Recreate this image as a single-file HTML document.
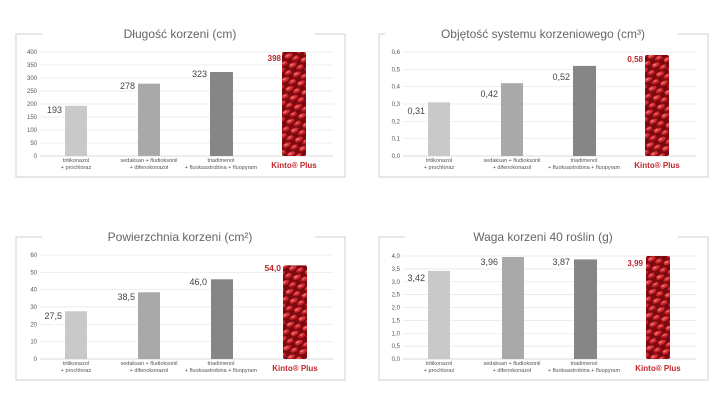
<!DOCTYPE html>
<html><head><meta charset="utf-8"><style>
html,body{margin:0;padding:0;background:#fff;}
svg{display:block;font-family:"Liberation Sans",sans-serif;}
</style></head><body>
<svg width="720" height="405" viewBox="0 0 720 405" xmlns="http://www.w3.org/2000/svg">
<defs>
<pattern id="beans" width="13" height="10" patternUnits="userSpaceOnUse" patternTransform="rotate(-25)">
<rect width="13" height="10" fill="#7a0a10"/>
<ellipse cx="3.5" cy="2.5" rx="4.6" ry="2.3" fill="#d42a30"/>
<ellipse cx="10" cy="7.5" rx="4.6" ry="2.3" fill="#c92026"/>
<ellipse cx="3" cy="1.9" rx="2" ry="0.8" fill="#f08080"/>
<ellipse cx="9.5" cy="6.9" rx="2" ry="0.8" fill="#ea7070"/>
</pattern>
</defs>
<rect width="720" height="405" fill="#fff"/>

<!-- Panel A -->
<g>
<path d="M42 34 H16 V177 H345 V34 H315" stroke="#cfcfcf" fill="none"/>
<text x="180" y="38" font-size="12" fill="#666" text-anchor="middle">Długość korzeni (cm)</text>
<g stroke="#e6e6e6" stroke-width="0.7">
<line x1="40" x2="333" y1="52" y2="52"/><line x1="40" x2="333" y1="65" y2="65"/><line x1="40" x2="333" y1="78" y2="78"/><line x1="40" x2="333" y1="91" y2="91"/><line x1="40" x2="333" y1="104" y2="104"/><line x1="40" x2="333" y1="117" y2="117"/><line x1="40" x2="333" y1="130" y2="130"/><line x1="40" x2="333" y1="143" y2="143"/><line x1="40" x2="333" y1="156" y2="156" stroke="#ccc"/>
</g>
<g font-size="6" fill="#555" text-anchor="end">
<text x="37" y="54">400</text><text x="37" y="67">350</text><text x="37" y="80">300</text><text x="37" y="93">250</text><text x="37" y="106">200</text><text x="37" y="119">150</text><text x="37" y="132">100</text><text x="37" y="145">50</text><text x="37" y="158">0</text>
</g>
<rect x="65" y="105.8" width="22" height="50.2" fill="#c9c9c9"/>
<rect x="138" y="83.7" width="22" height="72.3" fill="#a9a9a9"/>
<rect x="210" y="72" width="23" height="84" fill="#868686"/>
<rect x="282" y="52" width="24" height="104" rx="2" fill="url(#beans)"/>
<g font-size="9" fill="#444" text-anchor="end">
<text x="62" y="113">193</text><text x="135" y="89">278</text><text x="207" y="77">323</text>
</g>
<text x="281" y="61" font-size="8" font-weight="bold" fill="#c0262c" text-anchor="end">398</text>
<g font-size="5.5" fill="#555" text-anchor="middle">
<text x="76" y="162">tritikonazol</text><text x="76" y="169">+ prochloraz</text>
<text x="149" y="162">sedaksan + fludioksonil</text><text x="149" y="169">+ difenokonazol</text>
<text x="221" y="162">triadimenol</text><text x="221" y="169">+ fluoksastrobina + fluopyram</text>
</g>
<text x="294" y="168" font-size="8" font-weight="bold" fill="#c0262c" text-anchor="middle">Kinto® Plus</text>
</g>

<!-- Panel B -->
<g transform="translate(363,0)">
<path d="M22 34 H16 V177 H345 V34 H315" stroke="#cfcfcf" fill="none"/>
<text x="180" y="38" font-size="12" fill="#666" text-anchor="middle">Objętość systemu korzeniowego (cm³)</text>
<g stroke="#e6e6e6" stroke-width="0.7">
<line x1="40" x2="333" y1="52" y2="52"/><line x1="40" x2="333" y1="69.3" y2="69.3"/><line x1="40" x2="333" y1="86.7" y2="86.7"/><line x1="40" x2="333" y1="104" y2="104"/><line x1="40" x2="333" y1="121.3" y2="121.3"/><line x1="40" x2="333" y1="138.7" y2="138.7"/><line x1="40" x2="333" y1="156" y2="156" stroke="#ccc"/>
</g>
<g font-size="6" fill="#555" text-anchor="end">
<text x="37" y="54">0,6</text><text x="37" y="71.3">0,5</text><text x="37" y="88.7">0,4</text><text x="37" y="106">0,3</text><text x="37" y="123.3">0,2</text><text x="37" y="140.7">0,1</text><text x="37" y="158">0,0</text>
</g>
<rect x="65" y="102.3" width="22" height="53.7" fill="#c9c9c9"/>
<rect x="138" y="83.2" width="22" height="72.8" fill="#a9a9a9"/>
<rect x="210" y="65.9" width="23" height="90.1" fill="#868686"/>
<rect x="282" y="55" width="24" height="101" rx="2" fill="url(#beans)"/>
<g font-size="9" fill="#444" text-anchor="end">
<text x="62" y="114">0,31</text><text x="135" y="97">0,42</text><text x="207" y="80">0,52</text>
</g>
<text x="280" y="62" font-size="8" font-weight="bold" fill="#c0262c" text-anchor="end">0,58</text>
<g font-size="5.5" fill="#555" text-anchor="middle">
<text x="76" y="162">tritikonazol</text><text x="76" y="169">+ prochloraz</text>
<text x="149" y="162">sedaksan + fludioksonil</text><text x="149" y="169">+ difenokonazol</text>
<text x="221" y="162">triadimenol</text><text x="221" y="169">+ fluoksastrobina + fluopyram</text>
</g>
<text x="294" y="168" font-size="8" font-weight="bold" fill="#c0262c" text-anchor="middle">Kinto® Plus</text>
</g>

<!-- Panel C -->
<g transform="translate(0,203)">
<path d="M42 34 H16 V177 H345 V34 H315" stroke="#cfcfcf" fill="none"/>
<text x="180" y="38" font-size="12" fill="#666" text-anchor="middle">Powierzchnia korzeni (cm²)</text>
<g stroke="#e6e6e6" stroke-width="0.7">
<line x1="40" x2="333" y1="52" y2="52"/><line x1="40" x2="333" y1="69.3" y2="69.3"/><line x1="40" x2="333" y1="86.7" y2="86.7"/><line x1="40" x2="333" y1="104" y2="104"/><line x1="40" x2="333" y1="121.3" y2="121.3"/><line x1="40" x2="333" y1="138.7" y2="138.7"/><line x1="40" x2="333" y1="156" y2="156" stroke="#ccc"/>
</g>
<g font-size="6" fill="#555" text-anchor="end">
<text x="37" y="54">60</text><text x="37" y="71.3">50</text><text x="37" y="88.7">40</text><text x="37" y="106">30</text><text x="37" y="123.3">20</text><text x="37" y="140.7">10</text><text x="37" y="158">0</text>
</g>
<rect x="65" y="108.3" width="22" height="47.7" fill="#c9c9c9"/>
<rect x="138" y="89.3" width="22" height="66.7" fill="#a9a9a9"/>
<rect x="211" y="76.3" width="22" height="79.7" fill="#868686"/>
<rect x="283" y="62.4" width="24" height="93.6" rx="2" fill="url(#beans)"/>
<g font-size="9" fill="#444" text-anchor="end">
<text x="62" y="116">27,5</text><text x="135" y="97">38,5</text><text x="207" y="82">46,0</text>
</g>
<text x="281" y="68" font-size="8.5" font-weight="bold" fill="#c0262c" text-anchor="end">54,0</text>
<g font-size="5.5" fill="#555" text-anchor="middle">
<text x="76" y="162">tritikonazol</text><text x="76" y="169">+ prochloraz</text>
<text x="149" y="162">sedaksan + fludioksonil</text><text x="149" y="169">+ difenokonazol</text>
<text x="221" y="162">triadimenol</text><text x="221" y="169">+ fluoksastrobina + fluopyram</text>
</g>
<text x="295" y="168" font-size="8" font-weight="bold" fill="#c0262c" text-anchor="middle">Kinto® Plus</text>
</g>

<!-- Panel D -->
<g transform="translate(363,203)">
<path d="M42 34 H16 V177 H345 V34 H315" stroke="#cfcfcf" fill="none"/>
<text x="180" y="38" font-size="12" fill="#666" text-anchor="middle">Waga korzeni 40 roślin (g)</text>
<g stroke="#e6e6e6" stroke-width="0.7">
<line x1="40" x2="333" y1="53" y2="53"/><line x1="40" x2="333" y1="65.9" y2="65.9"/><line x1="40" x2="333" y1="78.8" y2="78.8"/><line x1="40" x2="333" y1="91.6" y2="91.6"/><line x1="40" x2="333" y1="104.5" y2="104.5"/><line x1="40" x2="333" y1="117.4" y2="117.4"/><line x1="40" x2="333" y1="130.3" y2="130.3"/><line x1="40" x2="333" y1="143.1" y2="143.1"/><line x1="40" x2="333" y1="156" y2="156" stroke="#ccc"/>
</g>
<g font-size="6" fill="#555" text-anchor="end">
<text x="37" y="55">4,0</text><text x="37" y="67.9">3,5</text><text x="37" y="80.8">3,0</text><text x="37" y="93.6">2,5</text><text x="37" y="106.5">2,0</text><text x="37" y="119.4">1,5</text><text x="37" y="132.3">1,0</text><text x="37" y="145.1">0,5</text><text x="37" y="158">0,0</text>
</g>
<rect x="65" y="67.9" width="22" height="88.1" fill="#c9c9c9"/>
<rect x="139" y="54" width="22" height="102" fill="#a9a9a9"/>
<rect x="211" y="56.4" width="23" height="99.6" fill="#868686"/>
<rect x="283" y="53" width="24" height="103" rx="2" fill="url(#beans)"/>
<g font-size="9" fill="#444" text-anchor="end">
<text x="62" y="78">3,42</text><text x="135" y="62">3,96</text><text x="207" y="62">3,87</text>
</g>
<text x="280" y="63" font-size="8" font-weight="bold" fill="#c0262c" text-anchor="end">3,99</text>
<g font-size="5.5" fill="#555" text-anchor="middle">
<text x="76" y="162">tritikonazol</text><text x="76" y="169">+ prochloraz</text>
<text x="149" y="162">sedaksan + fludioksonil</text><text x="149" y="169">+ difenokonazol</text>
<text x="221" y="162">triadimenol</text><text x="221" y="169">+ fluoksastrobina + fluopyram</text>
</g>
<text x="295" y="168" font-size="8" font-weight="bold" fill="#c0262c" text-anchor="middle">Kinto® Plus</text>
</g>
</svg>
</body></html>
